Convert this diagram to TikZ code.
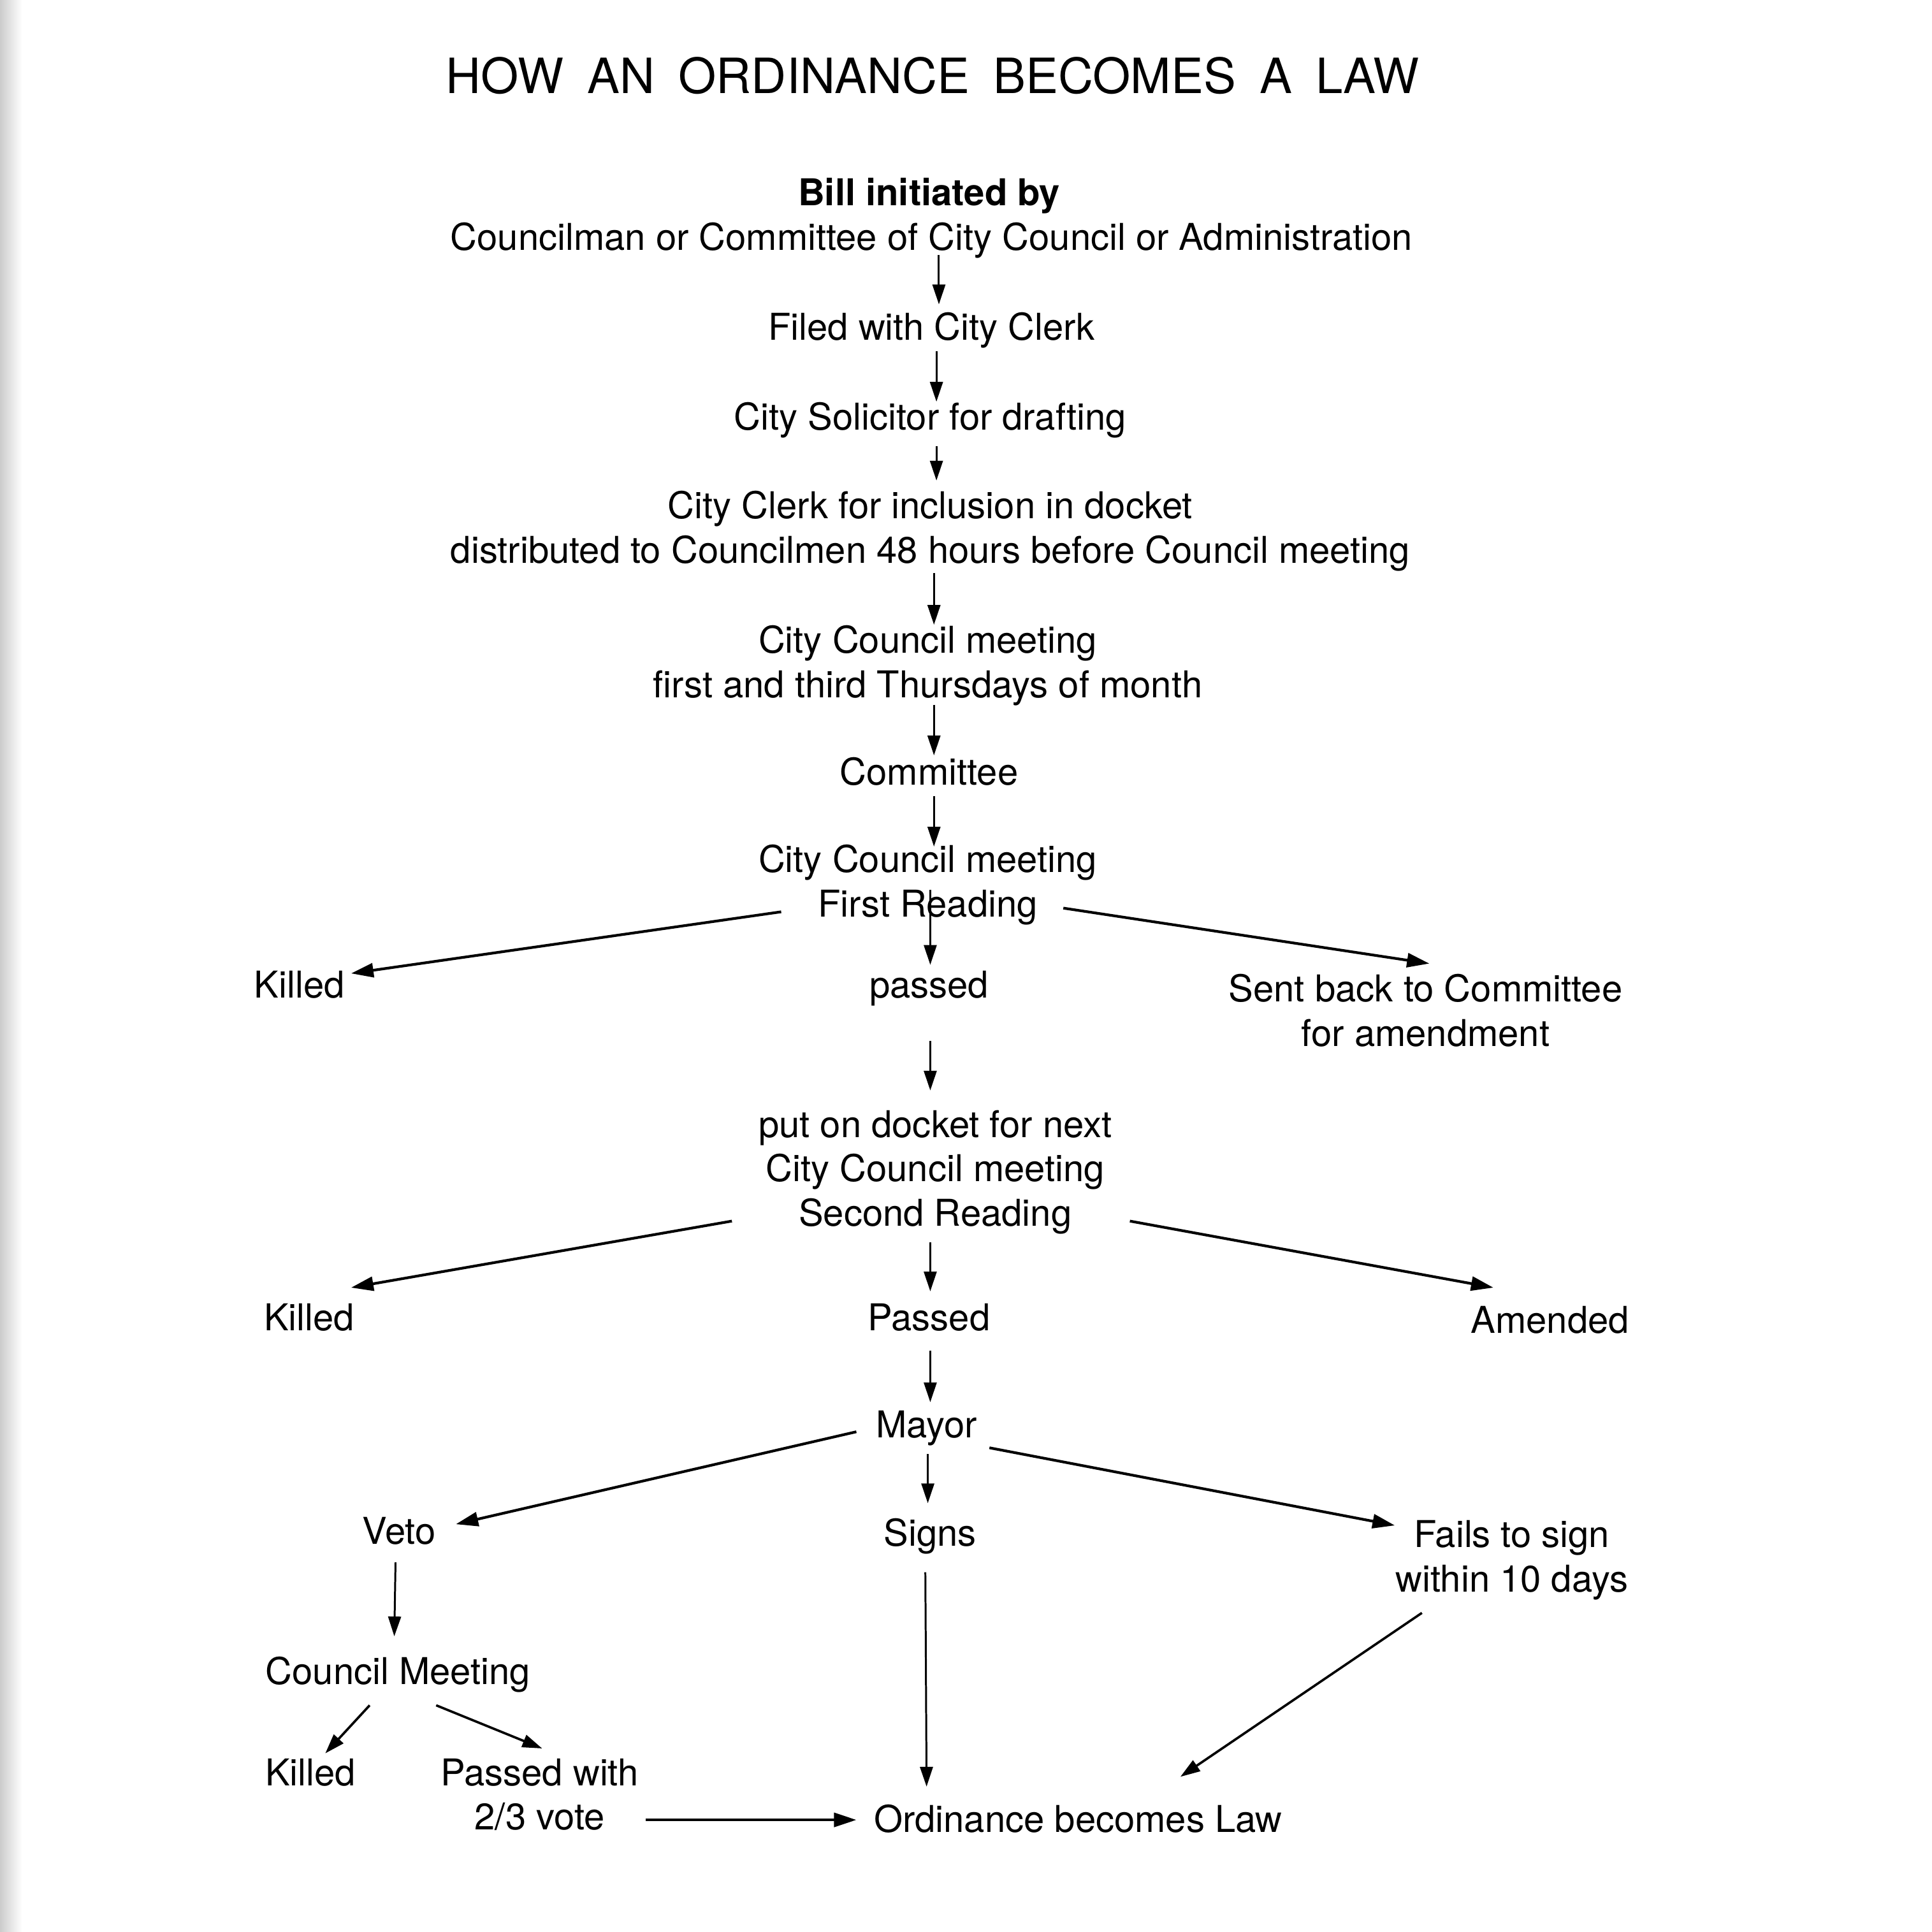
\documentclass[tikz,border=0pt]{standalone}
\usepackage{fontspec}
\setmainfont{TeX Gyre Heros}
\usetikzlibrary{calc,arrows.meta}
\begin{document}
\begin{tikzpicture}[x=0.01933cm,y=-0.01933cm,
  lbl/.style={anchor=base,inner sep=0pt,font=\fontsize{16.5}{19.8}\selectfont},
  ttl/.style={anchor=base,inner sep=0pt,font=\fontsize{21.7}{26}\selectfont},
  varr/.style={line width=0.85pt,-{Triangle[length=0.31cm,width=0.2cm]}},
  darr/.style={line width=1.2pt,-{Triangle[length=0.35cm,width=0.22cm]}},
  marr/.style={line width=1.05pt,-{Triangle[length=0.31cm,width=0.2cm]}}]
\useasboundingbox (0,0) rectangle (1568,1568);
\shade[left color=black!20,right color=white] (0,0) rectangle (18,1568);
% nodes
\node[ttl] (title) at (757,76) {HOW\hspace{10.6pt}AN\hspace{10.6pt}ORDINANCE\hspace{10.6pt}BECOMES\hspace{10.6pt}A\hspace{10.6pt}LAW};
\node[lbl,font=\fontsize{16.5}{19.8}\selectfont\bfseries] (bill) at (754,167) {Bill initiated by};
\node[lbl] (bill2) at (756,203) {Councilman or Committee of City Council or Administration};
\node[lbl] (filed) at (756,276) {Filed with City Clerk};
\node[lbl] (solic) at (755,349) {City Solicitor for drafting};
\node[lbl] (clerk1) at (755,421) {City Clerk for inclusion in docket};
\node[lbl] (clerk2) at (755,457) {distributed to Councilmen 48 hours before Council meeting};
\node[lbl] (ccm1) at (753,530) {City Council meeting};
\node[lbl] (ccm2) at (753,566) {first and third Thursdays of month};
\node[lbl] (comm) at (754,637) {Committee};
\node[lbl] (ccm3) at (753,708) {City Council meeting};
\node[lbl] (first) at (753,744) {First Reading};
\node[lbl] (killA) at (243,810) {Killed};
\node[lbl] (passA) at (754,810) {passed};
\node[lbl] (sent1) at (1157,813) {Sent back to Committee};
\node[lbl] (sent2) at (1157,849) {for amendment};
\node[lbl] (dock1) at (759,923) {put on docket for next};
\node[lbl] (dock2) at (759,959) {City Council meeting};
\node[lbl] (dock3) at (759,995) {Second Reading};
\node[lbl] (killB) at (251,1080) {Killed};
\node[lbl] (passB) at (754,1080) {Passed};
\node[lbl] (amend) at (1258,1082) {Amended};
\node[lbl] (mayor) at (752,1167) {Mayor};
\node[lbl] (veto) at (324,1253) {Veto};
\node[lbl] (signs) at (755,1255) {Signs};
\node[lbl] (fails1) at (1227,1256) {Fails to sign};
\node[lbl] (fails2) at (1227,1292) {within 10 days};
\node[lbl] (council) at (323,1367) {Council Meeting};
\node[lbl] (killC) at (252,1449) {Killed};
\node[lbl] (pw1) at (438,1449) {Passed with};
\node[lbl] (pw2) at (438,1485) {2/3 vote};
\node[lbl] (law) at (875,1487) {Ordinance becomes Law};
% connectors
\draw[varr] ($(bill2.base)+(6,4)$) -- ($(filed.base)+(6,-29)$);
\draw[varr] ($(filed.base)+(4,9)$) -- ($(solic.base)+(5,-23)$);
\draw[varr] ($(solic.base)+(5,13)$) -- ($(clerk1.base)+(5,-31)$);
\draw[varr] ($(clerk2.base)+(3,8)$) -- ($(ccm1.base)+(5,-23)$);
\draw[varr] ($(ccm2.base)+(5,6)$) -- ($(comm.base)+(4,-24)$);
\draw[varr] ($(comm.base)+(4,9)$) -- ($(ccm3.base)+(5,-21)$);
\draw[varr] ($(first.base)+(2,-22)$) -- ($(passA.base)+(1,-27)$);
\draw[darr] ($(first.base)+(-119,-4)$) -- ($(killA.base)+(42,-20)$);
\draw[darr] ($(first.base)+(110,-7)$) -- ($(sent1.base)+(3,-31)$);
\draw[varr] ($(passA.base)+(1,35)$) -- ($(dock1.base)+(-4,-38)$);
\draw[darr] ($(dock3.base)+(-165,-4)$) -- ($(killB.base)+(34,-35)$);
\draw[varr] ($(dock3.base)+(-4,13)$) -- ($(passB.base)+(1,-32)$);
\draw[darr] ($(dock3.base)+(158,-4)$) -- ($(amend.base)+(-46,-37)$);
\draw[varr] ($(passB.base)+(1,16)$) -- ($(mayor.base)+(3,-29)$);
\draw[darr] ($(mayor.base)+(-57,-5)$) -- ($(veto.base)+(46,-16)$);
\draw[varr] ($(mayor.base)+(1,13)$) -- ($(signs.base)+(-2,-35)$);
\draw[darr] ($(mayor.base)+(51,8)$) -- ($(fails1.base)+(-95,-18)$);
\draw[varr] ($(veto.base)+(-3,15)$) -- ($(council.base)+(-3,-39)$);
\draw[varr] ($(signs.base)+(-4,21)$) -- ($(law.base)+(-123,-37)$);
\draw[marr] ($(fails2.base)+(-73,17)$) -- ($(law.base)+(83,-45)$);
\draw[marr] ($(council.base)+(-23,17)$) -- ($(killC.base)+(12,-26)$);
\draw[marr] ($(council.base)+(31,17)$) -- ($(pw1.base)+(2,-30)$);
\draw[darr] ($(pw2.base)+(86,-8)$) -- ($(law.base)+(-180,-10)$);
\end{tikzpicture}
\end{document}
